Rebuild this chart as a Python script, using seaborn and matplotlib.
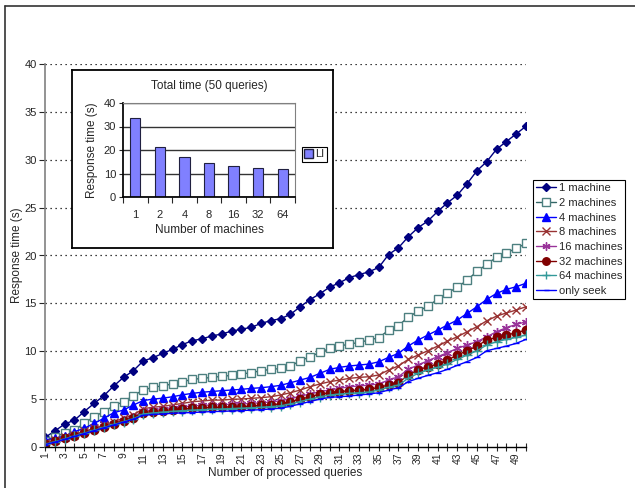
"""Response time vs. processed queries, with total-time inset."""

import matplotlib.pyplot as plt
import numpy as np
import pandas as pd
import seaborn as sns
from matplotlib.lines import Line2D
from matplotlib.patches import Patch

queries = list(range(1, 51))

one_machine = [1.0, 1.67, 2.4, 2.8, 3.7, 4.55, 5.36, 6.37, 7.27, 7.97,
               8.98, 9.33, 9.78, 10.2, 10.7, 11.1, 11.3, 11.6, 11.8, 12.1,
               12.3, 12.5, 12.9, 13.2, 13.4, 13.85, 14.65, 15.4, 16.0, 16.7,
               17.15, 17.7, 18.0, 18.3, 18.75, 20.1, 20.8, 21.95, 22.9, 23.6,
               24.6, 25.5, 26.3, 27.5, 28.85, 29.8, 31.1, 31.9, 32.7, 33.5]
two_machines = [0.66, 1.08, 1.43, 1.77, 2.47, 3.17, 3.69, 4.31, 4.73, 5.36,
                5.95, 6.23, 6.4, 6.58, 6.82, 7.06, 7.17, 7.27, 7.38, 7.48,
                7.62, 7.76, 7.97, 8.1, 8.2, 8.45, 9.0, 9.43, 9.88, 10.3,
                10.54, 10.75, 10.92, 11.17, 11.41, 12.2, 12.66, 13.57, 14.16, 14.72,
                15.42, 16.1, 16.67, 17.43, 18.33, 19.07, 19.83, 20.28, 20.74, 21.26]
four_machines = [0.73, 0.9, 1.15, 1.6, 1.95, 2.47, 3.0, 3.58, 3.86, 4.38,
                 4.85, 5.0, 5.1, 5.25, 5.45, 5.6, 5.72, 5.8, 5.88, 5.95,
                 6.02, 6.12, 6.19, 6.3, 6.44, 6.71, 6.99, 7.27, 7.69, 8.11,
                 8.32, 8.46, 8.56, 8.66, 8.9, 9.36, 9.78, 10.54, 11.17, 11.69,
                 12.21, 12.74, 13.26, 13.95, 14.65, 15.42, 16.04, 16.46, 16.74, 17.1]
eight_machines = [0.45, 0.7, 1.0, 1.3, 1.65, 1.95, 2.3, 2.65, 3.0, 3.35,
                  4.0, 4.15, 4.25, 4.4, 4.55, 4.73, 4.8, 4.9, 4.9, 4.98,
                  5.01, 5.08, 5.15, 5.25, 5.43, 5.67, 5.95, 6.3, 6.58, 6.82,
                  6.99, 7.17, 7.27, 7.34, 7.52, 8.04, 8.46, 9.15, 9.6, 10.05,
                  10.54, 11.06, 11.51, 12.04, 12.56, 13.18, 13.67, 14.0, 14.3, 14.65]
sixteen_machines = [0.4, 0.65, 0.95, 1.25, 1.55, 1.85, 2.2, 2.5, 2.85, 3.15,
                    3.75, 3.9, 4.0, 4.1, 4.2, 4.28, 4.35, 4.38, 4.42, 4.45,
                    4.49, 4.55, 4.62, 4.69, 4.83, 5.04, 5.32, 5.53, 5.78, 5.95,
                    6.12, 6.3, 6.37, 6.47, 6.58, 6.99, 7.34, 8.11, 8.56, 9.01,
                    9.43, 9.85, 10.3, 10.65, 11.0, 11.51, 12.04, 12.46, 12.8, 13.08]
thirtytwo_machines = [0.35, 0.6, 0.9, 1.2, 1.5, 1.8, 2.1, 2.4, 2.75, 3.05,
                      3.6, 3.7, 3.8, 3.9, 3.97, 4.03, 4.1, 4.14, 4.14, 4.21,
                      4.21, 4.28, 4.35, 4.42, 4.49, 4.73, 4.98, 5.25, 5.53, 5.67,
                      5.78, 5.88, 5.95, 6.02, 6.23, 6.47, 6.71, 7.52, 8.04, 8.39,
                      8.66, 9.08, 9.6, 10.05, 10.54, 11.17, 11.45, 11.69, 11.93, 12.21]
sixtyfour_machines = [0.3, 0.55, 0.85, 1.15, 1.45, 1.75, 2.05, 2.35, 2.65, 2.95,
                      3.45, 3.55, 3.65, 3.72, 3.8, 3.85, 3.9, 3.95, 3.97, 4.02,
                      4.05, 4.1, 4.15, 4.22, 4.3, 4.5, 4.75, 5.0, 5.25, 5.43,
                      5.53, 5.6, 5.67, 5.74, 5.95, 6.23, 6.47, 7.17, 7.69, 8.04,
                      8.32, 8.66, 9.15, 9.6, 10.05, 10.65, 11.0, 11.24, 11.45, 11.69]
only_seek = [0.25, 0.5, 0.8, 1.1, 1.4, 1.7, 2.0, 2.3, 2.6, 2.9,
             3.3, 3.4, 3.45, 3.52, 3.56, 3.6, 3.65, 3.7, 3.72, 3.76,
             3.8, 3.85, 3.9, 3.97, 4.05, 4.25, 4.5, 4.75, 5.0, 5.18,
             5.25, 5.32, 5.43, 5.53, 5.67, 5.95, 6.19, 6.82, 7.17, 7.48,
             7.76, 8.11, 8.53, 8.91, 9.36, 10.05, 10.3, 10.54, 10.82, 11.24]

machines = ["1", "2", "4", "8", "16", "32", "64"]
total_time = [33.5, 21.3, 17.1, 14.6, 13.1, 12.2, 11.8]

series = {
    "1 machine": one_machine,
    "2 machines": two_machines,
    "4 machines": four_machines,
    "8 machines": eight_machines,
    "16 machines": sixteen_machines,
    "32 machines": thirtytwo_machines,
    "64 machines": sixtyfour_machines,
    "only seek": only_seek,
}

# (line colour, marker, marker face, marker size)
styles = {
    "1 machine": ("#000080", "D", "#000080", 4.5),
    "2 machines": ("#336666", "s", "white", 6),
    "4 machines": ("#0000FF", "^", "#0000FF", 6),
    "8 machines": ("#993333", "x", "#993333", 6),
    "16 machines": ("#993399", (6, 2, 0), "#993399", 6.5),
    "32 machines": ("#800000", "o", "#800000", 6),
    "64 machines": ("#339999", "+", "#339999", 7),
    "only seek": ("#0000FF", "_", "#0000FF", 4),
}

sns.set_theme(style="white")
plt.rcParams["font.family"] = ["Liberation Sans", "DejaVu Sans"]

fig = plt.figure(figsize=(6.35, 4.88), dpi=100)
W, H = 635, 488


def fig_box(x0, y0, x1, y1):
    """Pixel box (top-left origin) -> figure fraction rect."""
    return [x0 / W, 1 - y1 / H, (x1 - x0) / W, (y1 - y0) / H]


ax = fig.add_axes(fig_box(45, 64, 526, 447))

for name, values in series.items():
    color, marker, face, size = styles[name]
    df = pd.DataFrame({"query": queries, "time": values})
    sns.lineplot(
        data=df, x="query", y="time", ax=ax, color=color, linewidth=1,
        marker=marker, markersize=size, markerfacecolor=face,
        markeredgecolor=color if name != "2 machines" else "#4d8080",
        markeredgewidth=1.0, label=name, legend=False,
    )

ax.set_xlim(1, 50)
ax.set_ylim(0, 40)
ax.set_yticks(np.arange(0, 41, 5))
ax.set_xticks(queries)
ax.set_xticklabels([str(q) if q % 2 == 1 else "" for q in queries],
                   rotation=90, fontsize=7.5)
ax.tick_params(axis="y", labelsize=8, length=4, width=0.8, direction="out",
               left=True, pad=2)
ax.tick_params(axis="x", length=6, width=0.8, direction="inout",
               bottom=True, pad=1)
for y in np.arange(5, 41, 5):
    ax.axhline(y, color="black", linestyle=(0, (1, 3)), linewidth=0.9, zorder=0)
ax.set_xlabel("Number of processed queries", fontsize=8.5, labelpad=2)
ax.set_ylabel("Response time (s)", fontsize=8.5, labelpad=1)
for side in ["top", "right"]:
    ax.spines[side].set_visible(False)
ax.spines["left"].set_color("#808080")
ax.spines["left"].set_linewidth(1.2)
ax.spines["bottom"].set_color("black")
ax.spines["bottom"].set_linewidth(1.0)

handles = []
for name in series:
    color, marker, face, size = styles[name]
    handles.append(Line2D([0], [0], color=color, lw=1, marker=marker,
                          markersize=size * 0.9, markerfacecolor=face,
                          markeredgecolor=color if name != "2 machines" else "#4d8080"))
leg = ax.legend(handles, list(series.keys()), loc="upper left",
                bbox_to_anchor=(533 / W, 1 - 180 / H), bbox_transform=fig.transFigure,
                fontsize=8, frameon=True, fancybox=False, framealpha=1,
                edgecolor="black", borderpad=0.3, labelspacing=0.42,
                handlelength=1.8, handletextpad=0.2, borderaxespad=0)
leg.get_frame().set_linewidth(0.8)

# inset frame
frame = fig.add_axes(fig_box(72, 70, 333, 248))
frame.set_facecolor("white")
frame.set_xticks([])
frame.set_yticks([])
for s in frame.spines.values():
    s.set_color("black")
    s.set_linewidth(1.3)

ax_in = fig.add_axes(fig_box(123, 103, 295, 197))
sns.barplot(x=machines, y=total_time, order=machines, color="#8080FF",
            edgecolor="#202040", linewidth=0.8, width=0.42, saturation=1,
            ax=ax_in)
ax_in.set_ylim(0, 40)
ax_in.set_xlim(-0.5, len(machines) - 0.5)
ax_in.set_yticks([0, 10, 20, 30, 40])
ax_in.yaxis.grid(True, color="#333333", linewidth=1.0)
ax_in.set_axisbelow(True)
ax_in.set_xticks(range(len(machines)))
ax_in.set_xticks(np.arange(-0.5, len(machines)), minor=True)
ax_in.tick_params(axis="x", which="major", length=0, labelsize=8, pad=9)
ax_in.tick_params(axis="x", which="minor", length=4, width=0.8,
                  direction="out", bottom=True)
ax_in.tick_params(axis="y", labelsize=8, length=3, width=0.8,
                  direction="out", left=True, pad=2)
for side in ["top", "right"]:
    ax_in.spines[side].set_color("#808080")
    ax_in.spines[side].set_linewidth(0.8)
ax_in.spines["left"].set_color("black")
ax_in.spines["bottom"].set_color("black")
ax_in.set_title("Total time (50 queries)", fontsize=8.5, pad=10)
ax_in.set_xlabel("Number of machines", fontsize=8.5, labelpad=3)
ax_in.set_ylabel("Response time (s)", fontsize=8.5, labelpad=4)
leg_in = ax_in.legend([Patch(facecolor="#8080FF", edgecolor="#202040")], ["LI"],
                      loc="upper left", bbox_to_anchor=(302 / W, 1 - 147 / H),
                      bbox_transform=fig.transFigure, fontsize=8, frameon=True,
                      fancybox=False, framealpha=1, edgecolor="black",
                      borderpad=0.2, handlelength=0.8, handleheight=0.8,
                      handletextpad=0.2, borderaxespad=0)
leg_in.get_frame().set_linewidth(0.8)

# outer chart border (top and left visible)
fig.add_artist(Line2D([5 / W, 1], [1 - 6 / H, 1 - 6 / H], color="#333333", lw=1.2,
                      transform=fig.transFigure))
fig.add_artist(Line2D([5 / W, 5 / W], [0, 1 - 6 / H], color="#333333", lw=1.2,
                      transform=fig.transFigure))

fig.savefig("out.png", dpi=100)
plt.close(fig)
